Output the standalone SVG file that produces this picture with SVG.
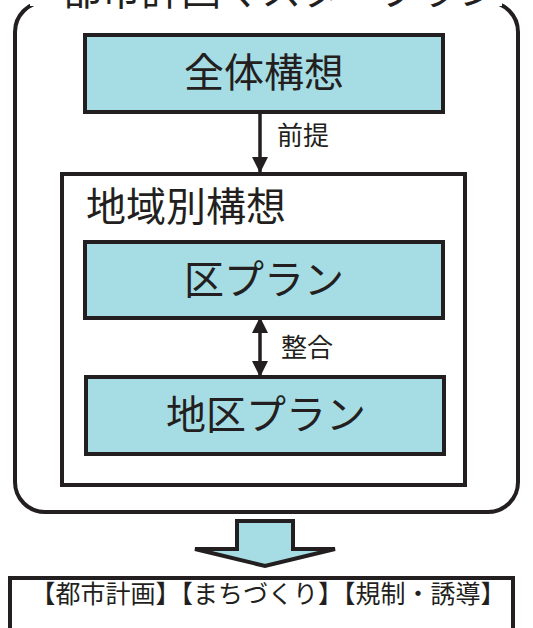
<svg xmlns="http://www.w3.org/2000/svg" width="533" height="628" viewBox="0 0 533 628">
  <defs>
    <style>
      .box { fill: #a6dce4; stroke: #231f20; stroke-width: 4; }
      .frame { fill: #ffffff; stroke: #231f20; stroke-width: 4; }
      .t { font-family: "Noto Sans CJK JP", "Noto Sans", sans-serif; fill: #231f20; }
      .big { font-size: 40px; }
      .mid { font-size: 38px; }
      .small { font-size: 26px; }
      .line { stroke: #231f20; stroke-width: 3.5; fill: none; }
    </style>
    <marker id="ah" markerWidth="10" markerHeight="10" refX="8" refY="5" orient="auto" markerUnits="userSpaceOnUse" viewBox="0 0 10 10">
      <path d="M0,0 L10,5 L0,10 Z" fill="#231f20"/>
    </marker>
    <marker id="arr" viewBox="0 0 16 16" refX="15" refY="8" markerWidth="16" markerHeight="16" orient="auto-start-reverse" markerUnits="userSpaceOnUse">
      <path d="M0,0 L16,8 L0,16 Z" fill="#231f20"/>
    </marker>
  </defs>
  <rect width="533" height="628" fill="#ffffff"/>

  <g id="master-plan">
    <rect class="frame" x="15" y="2" width="503" height="510" rx="30" ry="30"/>
    <rect x="30" y="-10" width="472" height="16" fill="#ffffff"/>
    <text class="t big" x="280" y="5" text-anchor="middle">都市計画マスタープラン</text>
  </g>

  <g id="zentai">
    <rect class="box" x="85" y="35" width="358" height="77"/>
    <text class="t big" x="264" y="87" text-anchor="middle">全体構想</text>
  </g>

  <g id="chiikibetsu">
    <rect class="frame" x="62" y="174" width="403" height="311"/>
    <text class="t big" x="86" y="221">地域別構想</text>
  </g>

  <g id="ku-plan">
    <rect class="box" x="85" y="242" width="358" height="76"/>
    <text class="t big" x="264" y="294" text-anchor="middle">区プラン</text>
  </g>

  <g id="chiku-plan">
    <rect class="box" x="86" y="377" width="358" height="77"/>
    <text class="t big" x="266" y="429" text-anchor="middle">地区プラン</text>
  </g>

  <g id="connectors">
    <line class="line" x1="260" y1="112" x2="260" y2="172" marker-end="url(#arr)"/>
    <text class="t small" x="277" y="145">前提</text>
    <line class="line" x1="260" y1="318" x2="260" y2="376" marker-start="url(#arr)" marker-end="url(#arr)"/>
    <text class="t small" x="281" y="357">整合</text>
    <polygon points="237,521 293,521 293,549 335,549 265,566 195,549 237,549" fill="#a6dce4" stroke="#231f20" stroke-width="4" stroke-linejoin="miter"/>
  </g>

  <g id="result">
    <rect class="frame" x="10" y="578" width="503" height="70"/>
    <text class="t" font-size="25" x="268" y="603" text-anchor="middle">【都市計画】【まちづくり】【規制・誘導】</text>
  </g>
</svg>
